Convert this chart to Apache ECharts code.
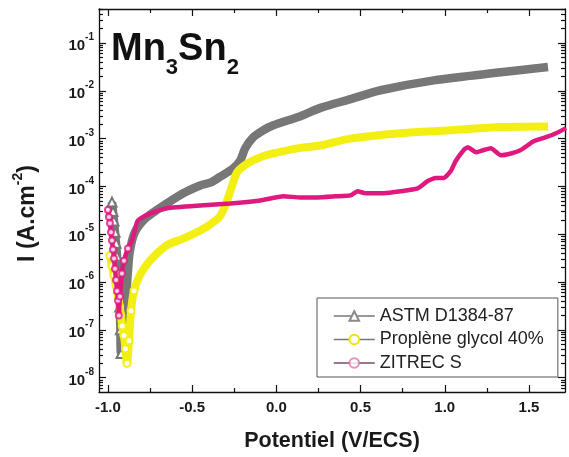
<!DOCTYPE html>
<html><head><meta charset="utf-8">
<script src="https://cdn.jsdelivr.net/npm/echarts@6/dist/echarts.min.js"></script>
<style>html,body{margin:0;padding:0;background:#fff}#c{width:569px;height:457px}</style>
</head><body><div id="c"></div>
<script>
// ---------- data ----------
const seriesNames = ['ASTM D1384-87', 'Proplène glycol 40%', 'ZITREC S'];

// ASTM D1384-87 : potential (V/ECS) and current (A.cm-2)
const astmV = [-0.976,-0.970,-0.964,-0.958,-0.952,-0.946,-0.940,-0.935,-0.930,-0.926,-0.922,
  -0.905,-0.893,-0.881,-0.869,-0.84,-0.78,-0.71,-0.553,-0.452,-0.393,-0.333,-0.256,-0.214,-0.185,
  -0.137,-0.077,-0.018,0.143,0.262,0.44,0.619,0.935,1.333,1.613];
const astmI = [4.7e-5,3.0e-5,1.9e-5,1.1e-5,6.5e-6,3.5e-6,1.6e-6,7.5e-7,3.0e-7,1.0e-7,3.2e-8,
  6e-8,4e-7,1.7e-6,4.6e-6,1.1e-5,2.1e-5,3.2e-5,7.2e-5,1.05e-4,1.2e-4,1.6e-4,2.4e-4,3.5e-4,6.3e-4,
  1.07e-3,1.5e-3,1.9e-3,2.95e-3,4.4e-3,6.7e-3,1.03e-2,1.66e-2,2.45e-2,3.15e-2];
const astmMarkerCount = 11;

// Proplène glycol 40%
const propV = [-0.988,-0.976,-0.964,-0.952,-0.940,-0.930,-0.923,-0.915,-0.905,-0.896,-0.887,
  -0.875,-0.863,-0.845,-0.81,-0.75,-0.649,-0.553,-0.452,-0.393,-0.333,-0.292,-0.262,-0.232,-0.173,
  -0.095,-0.018,0.143,0.262,0.44,0.738,1.036,1.333,1.613];
const propI = [3.6e-6,2.2e-6,1.4e-6,8.5e-7,5.2e-7,3.0e-7,2.0e-7,1.2e-7,7.6e-8,4e-8,2.0e-8,
  5.9e-8,2.5e-7,6.6e-7,1.4e-6,2.8e-6,5.9e-6,8.1e-6,1.2e-5,1.6e-5,2.4e-5,5.1e-5,1.05e-4,2.0e-4,3.0e-4,
  4.1e-4,4.9e-4,6.4e-4,7.2e-4,1.0e-3,1.3e-3,1.5e-3,1.75e-3,1.8e-3];
const propMarkerCount = 14;

// ZITREC S
const zitV = [-1.0,-0.994,-0.988,-0.982,-0.976,-0.970,-0.964,-0.958,-0.952,-0.946,-0.940,-0.935,
  -0.929,-0.917,-0.905,-0.881,-0.857,-0.827,-0.81,-0.75,-0.649,-0.452,-0.274,-0.095,0.042,0.143,
  0.244,0.351,0.44,0.482,0.53,0.637,0.738,0.839,0.899,0.946,0.994,1.036,1.065,1.113,1.137,1.185,
  1.232,1.274,1.333,1.393,1.452,1.53,1.601,1.661,1.72];
const zitI = [3.2e-5,2.3e-5,1.7e-5,1.1e-5,7.4e-6,4.8e-6,3.1e-6,1.9e-6,1.1e-6,6.5e-7,4.1e-7,2.0e-7,
  5e-7,1.5e-6,2.8e-6,5e-6,7.4e-6,1.8e-5,2.1e-5,2.7e-5,3.5e-5,4.0e-5,4.4e-5,5.1e-5,6.2e-5,5.9e-5,
  5.9e-5,6.2e-5,6.5e-5,7.9e-5,7.2e-5,7.2e-5,7.9e-5,9.1e-5,1.3e-4,1.5e-4,1.5e-4,2.1e-4,3.4e-4,5.8e-4,6.6e-4,5.2e-4,
  5.8e-4,6.3e-4,4.5e-4,4.9e-4,5.8e-4,8.9e-4,1.07e-3,1.3e-3,1.66e-3];
const zitMarkerCount = 16;

// axis ticks
const xTickValues = [-1.0, -0.5, 0.0, 0.5, 1.0, 1.5];
const xMinorTickValues = [-0.75, -0.25, 0.25, 0.75, 1.25];
const yTickValues = [1e-8, 1e-7, 1e-6, 1e-5, 1e-4, 1e-3, 1e-2, 1e-1];
const yDecades = [1e-9, 1e-8, 1e-7, 1e-6, 1e-5, 1e-4, 1e-3, 1e-2, 1e-1];
const yMinorMultipliers = [2, 3, 4, 5, 6, 7, 8, 9];

// ---------- chart ----------
const FONT = 'Liberation Sans, Arial, sans-serif';
const X_MIN = -1.053, X_MAX = 1.714;
const Y_MIN = 5.0e-9, Y_MAX = 0.516;

const yMinorTicks = [];
yDecades.forEach(d => yMinorMultipliers.forEach(m => {
  const v = +(d * m).toPrecision(3);
  if (v > Y_MIN && v < Y_MAX) yMinorTicks.push(v);
}));

function buildData(xs, ys, markerCount) {
  return xs.map((x, i) => i < markerCount ? [x, ys[i]] : { value: [x, ys[i]], symbol: 'none' });
}

const supRich = {
  b: { fontSize: 15, fontWeight: 'bold', color: '#1a1a1a', fontFamily: FONT, lineHeight: 21, verticalAlign: 'bottom' },
  s: { fontSize: 10, fontWeight: 'bold', color: '#1a1a1a', fontFamily: FONT, lineHeight: 11, verticalAlign: 'top' }
};

const axisLineStyle = { color: '#111', width: 1.3 };

function xAxisDef(pos, values, len, withLabels, withLine) {
  return {
    type: 'value', position: pos, min: X_MIN, max: X_MAX,
    splitLine: { show: false },
    axisLine: { show: withLine, onZero: false, lineStyle: axisLineStyle },
    axisTick: { show: true, inside: true, length: len, customValues: values, lineStyle: { color: '#111', width: 1.2 } },
    axisLabel: withLabels ? {
      show: true, customValues: values, margin: 8,
      fontSize: 15, fontWeight: 'bold', color: '#1a1a1a', fontFamily: FONT,
      formatter: v => v.toFixed(1)
    } : { show: false }
  };
}
function yAxisDef(pos, values, len, withLabels, withLine) {
  return {
    type: 'log', logBase: 10, position: pos, min: Y_MIN, max: Y_MAX,
    splitLine: { show: false },
    axisLine: { show: withLine, onZero: false, lineStyle: axisLineStyle },
    axisTick: { show: true, inside: true, length: len, customValues: values, lineStyle: { color: '#111', width: 1.2 } },
    axisLabel: withLabels ? {
      show: true, customValues: values, margin: 5,
      formatter: v => '{b|10}{s|' + Math.round(Math.log10(v)) + '}',
      rich: supRich
    } : { show: false }
  };
}

const xA = [
  xAxisDef('bottom', xTickValues, 7, true, true),
  xAxisDef('bottom', xMinorTickValues, 4, false, false),
  xAxisDef('top', xTickValues, 7, false, true),
  xAxisDef('top', xMinorTickValues, 4, false, false)
];
xA[0].name = 'Potentiel (V/ECS)';
xA[0].nameLocation = 'middle';
xA[0].nameGap = 38;
xA[0].nameTextStyle = { fontSize: 21.5, fontWeight: 'bold', color: '#1a1a1a', fontFamily: FONT };

const yA = [
  yAxisDef('left', yTickValues, 7, true, true),
  yAxisDef('left', yMinorTicks, 4, false, false),
  yAxisDef('right', yTickValues, 7, false, true),
  yAxisDef('right', yMinorTicks, 4, false, false)
];
yA[0].name = '{t|I (A.cm}{s|-2}{t|)}';
yA[0].nameLocation = 'middle';
yA[0].nameRotate = 90;
yA[0].nameGap = 60;
yA[0].nameTextStyle = {
  padding: [0, 26, 0, 0],
  rich: {
    t: { fontSize: 23, fontWeight: 'bold', color: '#1a1a1a', fontFamily: FONT, lineHeight: 28, verticalAlign: 'bottom' },
    s: { fontSize: 14, fontWeight: 'bold', color: '#1a1a1a', fontFamily: FONT, lineHeight: 15, verticalAlign: 'top' }
  }
};

const GRAY = '#777777', YELLOW = '#f4ef12', MAGENTA = '#e0197f';

const option = {
  animation: false,
  backgroundColor: '#fff',
  title: {
    text: '{big|Mn}{sub|3}{big|Sn}{sub|2}',
    left: 111, top: 31, padding: 0,
    textStyle: {
      rich: {
        big: { fontSize: 38, fontWeight: 'bold', color: '#111', fontFamily: FONT, lineHeight: 38, verticalAlign: 'top' },
        sub: { fontSize: 22, fontWeight: 'bold', color: '#111', fontFamily: FONT, lineHeight: 22, verticalAlign: 'top', padding: [26, 0, 0, 0] }
      }
    }
  },
  grid: { left: 99, right: 4, top: 9, bottom: 65, containLabel: false },
  xAxis: xA,
  yAxis: yA,
  legend: {
    orient: 'vertical', left: 317, top: 298,
    padding: [9, 14, 5, 16], itemGap: 5.5, itemWidth: 41, itemHeight: 12,
    borderColor: '#555', borderWidth: 1, backgroundColor: '#fff',
    textStyle: { fontSize: 18, color: '#222', fontFamily: FONT },
    data: [
      { name: seriesNames[0], itemStyle: { color: '#8a8a8a' }, lineStyle: { color: '#777', width: 1.5 } },
      { name: seriesNames[1], itemStyle: { color: '#eee600' }, lineStyle: { color: '#777', width: 1.5 } },
      { name: seriesNames[2], itemStyle: { color: '#e86fae' }, lineStyle: { color: '#7a4a62', width: 1.5 } }
    ]
  },
  series: [
    {
      name: seriesNames[0], type: 'line', xAxisIndex: 0, yAxisIndex: 0,
      data: buildData(astmV, astmI, astmMarkerCount),
      symbol: 'emptyTriangle', symbolSize: 9, showSymbol: true, smooth: 0.3,
      itemStyle: { color: GRAY, borderWidth: 1 },
      lineStyle: { color: GRAY, width: 8.5 }, z: 2
    },
    {
      name: seriesNames[1], type: 'line', xAxisIndex: 0, yAxisIndex: 0,
      data: buildData(propV, propI, propMarkerCount),
      symbol: 'emptyCircle', symbolSize: 7, showSymbol: true, smooth: 0.3,
      itemStyle: { color: YELLOW, borderWidth: 1 },
      lineStyle: { color: YELLOW, width: 8 }, z: 3
    },
    {
      name: seriesNames[2], type: 'line', xAxisIndex: 0, yAxisIndex: 0,
      data: buildData(zitV, zitI, zitMarkerCount),
      symbol: 'emptyCircle', symbolSize: 6, showSymbol: true, smooth: 0.15,
      itemStyle: { color: MAGENTA, borderWidth: 1, opacity: 0.8 },
      lineStyle: { color: MAGENTA, width: 4.5 }, z: 4
    }
  ]
};

const chart = echarts.init(document.getElementById('c'), null, { renderer: 'canvas' });
chart.setOption(option);
</script>
</body></html>
